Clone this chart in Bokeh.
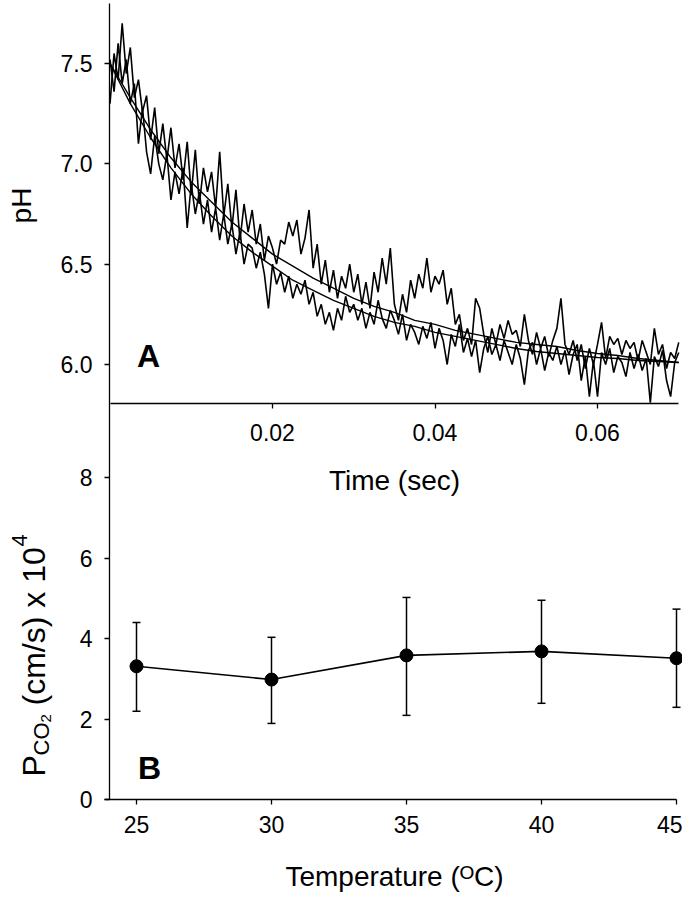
import math
from bokeh.plotting import figure
from bokeh.models import (Range1d, LinearAxis, FixedTicker, Label, Whisker, TeeHead,
                          ColumnDataSource, NumeralTickFormatter)
from bokeh.embed import file_html
from bokeh.resources import INLINE

# ---------------- Panel A data (pH vs time) ----------------
time_s = [round(i * 0.0005, 4) for i in range(141)]

trace_1 = [
    7.30, 7.55, 7.42, 7.70, 7.45, 7.58, 7.33, 7.42, 7.26, 7.34,
    7.12, 7.28, 7.05, 7.20, 7.02, 7.18, 6.98, 7.10, 6.92, 7.11,
    6.85, 7.07, 6.80, 6.98, 6.86, 6.96, 6.78, 7.06, 6.74, 6.90,
    6.68, 6.87, 6.62, 6.80, 6.66, 6.77, 6.60, 6.70, 6.52, 6.64,
    6.58, 6.50, 6.62, 6.60, 6.71, 6.64, 6.72, 6.55, 6.63, 6.77,
    6.48, 6.60, 6.40, 6.52, 6.36, 6.47, 6.33, 6.44, 6.38, 6.50,
    6.36, 6.45, 6.30, 6.41, 6.28, 6.46, 6.36, 6.53, 6.40, 6.58,
    6.30, 6.22, 6.35, 6.26, 6.42, 6.33, 6.45, 6.38, 6.53, 6.36,
    6.44, 6.40, 6.47, 6.30, 6.38, 6.20, 6.25, 6.12, 6.18, 6.10,
    6.33, 6.28, 6.15, 6.06, 6.18, 6.10, 6.20, 6.13, 6.22, 6.15,
    6.17, 6.09, 6.25, 6.12, 6.05, 6.16, 6.08, 6.14, 6.04, 6.12,
    6.18, 6.33, 6.10, 6.05, 6.12, 6.02, 6.10, 5.98, 6.08, 6.00,
    6.10, 6.21, 6.03, 6.14, 6.10, 6.13, 6.05, 6.12, 6.08, 6.11,
    6.02, 6.12, 6.06, 6.00, 6.18, 6.05, 6.10, 5.98, 6.06, 6.03, 6.11,
]

trace_2 = [
    7.52, 7.36, 7.60, 7.40, 7.52, 7.30, 7.40, 7.10, 7.28, 7.06,
    6.95, 7.14, 7.00, 6.92, 7.05, 6.82, 6.96, 6.85, 6.98, 6.68,
    6.90, 6.75, 6.86, 6.70, 6.82, 6.66, 6.78, 6.62, 6.75, 6.60,
    6.70, 6.55, 6.66, 6.50, 6.60, 6.58, 6.48, 6.56, 6.45, 6.28,
    6.50, 6.40, 6.46, 6.36, 6.44, 6.33, 6.40, 6.35, 6.42, 6.30,
    6.36, 6.24, 6.30, 6.20, 6.26, 6.17, 6.28, 6.22, 6.34, 6.26,
    6.30, 6.22, 6.28, 6.18, 6.26, 6.20, 6.32, 6.23, 6.18, 6.27,
    6.22, 6.15, 6.25, 6.12, 6.20, 6.16, 6.10, 6.19, 6.13, 6.21,
    6.08, 6.18, 6.12, 6.00, 6.15, 6.09, 6.20, 6.06, 6.13, 6.04,
    6.12, 5.96, 6.08, 6.14, 6.05, 6.10, 6.02, 6.12, 6.06, 6.00,
    6.10, 6.03, 5.90, 6.07, 6.11, 6.00, 6.08, 5.97, 6.06, 6.02,
    6.09, 6.00, 6.07, 5.95, 6.05, 6.10, 5.92, 6.04, 5.84, 6.02,
    5.84, 6.06, 6.00, 6.08, 5.96, 6.04, 6.01, 5.94, 6.06, 5.98,
    6.05, 5.97, 6.03, 5.81, 6.04, 5.99, 6.07, 5.92, 5.84, 6.01, 6.06,
]

fit_time = [0.0, 0.0025, 0.005, 0.0075, 0.01, 0.0125, 0.015, 0.0175, 0.02, 0.0225,
            0.025, 0.0275, 0.03, 0.0325, 0.035, 0.0375, 0.04, 0.0425, 0.045, 0.0475,
            0.05, 0.0525, 0.055, 0.0575, 0.06, 0.0625, 0.065, 0.0675, 0.07]
fit_upper = [7.50, 7.33, 7.17, 7.03, 6.91, 6.81, 6.71, 6.63, 6.55, 6.49,
             6.43, 6.38, 6.33, 6.29, 6.26, 6.22, 6.20, 6.17, 6.15, 6.13,
             6.11, 6.10, 6.09, 6.07, 6.055, 6.045, 6.03, 6.02, 6.01]
fit_lower = [7.50, 7.30, 7.13, 6.98, 6.85, 6.74, 6.64, 6.56, 6.49, 6.42,
             6.37, 6.32, 6.28, 6.24, 6.21, 6.19, 6.16, 6.14, 6.12, 6.10,
             6.08, 6.065, 6.055, 6.045, 6.035, 6.03, 6.02, 6.015, 6.01]

time_ticks = [0.02, 0.04, 0.06]
ph_ticks = [6.0, 6.5, 7.0, 7.5]
TIME_END = 0.07
PH_BOTTOM = 5.806   # pH at which panel A's time axis sits

# ---------------- Panel B data (P_CO2 vs temperature) ----------------
temperature = [25, 30, 35, 40, 45]
pco2_mean = [3.31, 2.98, 3.58, 3.68, 3.51]
pco2_upper = [4.40, 4.03, 5.02, 4.95, 4.73]
pco2_lower = [2.19, 1.89, 2.09, 2.39, 2.29]
temp_ticks = [25, 30, 35, 40, 45]
pco2_ticks = [0, 2, 4, 6, 8]

# ---------------- geometry (pixel anchors) ----------------
FONT = "Liberation Sans"
FIG_W, FIG_H = 682, 892


def lin(p0, v0, p1, v1):
    return lambda px: v0 + (px - p0) * (v1 - v0) / (p1 - p0)


x_T = lin(136, 25.0, 676, 45.0)      # temperature  (main x)
y_P = lin(799, 0.0, 477, 8.0)        # P_CO2        (main y)
x_t = lin(109.5, 0.0, 597, 0.06)     # time         (panel A x)
y_ph = lin(63, 7.5, 364, 6.0)        # pH           (panel A y)

p = figure(width=FIG_W, height=FIG_H, output_backend="svg", toolbar_location=None,
           x_range=Range1d(x_T(0), x_T(FIG_W)), y_range=Range1d(y_P(FIG_H), y_P(0)),
           x_axis_location=None, y_axis_location=None,
           min_border_left=0, min_border_right=0, min_border_top=0, min_border_bottom=0)
p.extra_x_ranges = {"t": Range1d(x_t(0), x_t(FIG_W))}
p.extra_y_ranges = {"ph": Range1d(y_ph(FIG_H), y_ph(0))}
p.outline_line_color = None
p.grid.visible = False
p.background_fill_color = "white"
p.border_fill_color = "white"

AXIS_X = x_T(109)        # temperature value where the left axis sits
TOP = y_P(3)             # top of the left axis line


def style_axis(ax, standoff):
    ax.axis_line_color = "black"
    ax.axis_line_width = 1.3
    ax.major_tick_line_color = "black"
    ax.major_tick_line_width = 1.3
    ax.major_tick_out = 5
    ax.major_tick_in = 0
    ax.minor_tick_line_color = None
    ax.major_label_text_font = FONT
    ax.major_label_text_font_size = "23px"
    ax.major_label_text_color = "black"
    ax.major_label_standoff = standoff


# panel B x axis
ax_temp = LinearAxis(fixed_location=0, bounds=(x_T(104), 45),
                     ticker=FixedTicker(ticks=temp_ticks))
style_axis(ax_temp, 11)
p.add_layout(ax_temp, "below")

# left axis for P_CO2 (its line runs the full height, as in the reference)
ax_p = LinearAxis(fixed_location=AXIS_X, bounds=(0, TOP), ticker=FixedTicker(ticks=pco2_ticks))
style_axis(ax_p, 12)
p.add_layout(ax_p, "left")

# panel A time axis
ax_time = LinearAxis(x_range_name="t", y_range_name="ph", fixed_location=PH_BOTTOM,
                     bounds=(0, TIME_END), ticker=FixedTicker(ticks=time_ticks),
                     formatter=NumeralTickFormatter(format="0.00"))
style_axis(ax_time, 16)
p.add_layout(ax_time, "below")

# panel A pH axis
ax_ph = LinearAxis(y_range_name="ph", fixed_location=AXIS_X, bounds=(PH_BOTTOM, y_ph(3)),
                   ticker=FixedTicker(ticks=ph_ticks),
                   formatter=NumeralTickFormatter(format="0.0"))
style_axis(ax_ph, 12)
ax_ph.axis_line_color = None
p.add_layout(ax_ph, "left")

# panel A glyphs
for series in (trace_1, trace_2):
    p.line(time_s, series, x_range_name="t", y_range_name="ph", line_color="black", line_width=1.6)
for series in (fit_upper, fit_lower):
    p.line(fit_time, series, x_range_name="t", y_range_name="ph", line_color="black", line_width=1.4)

# panel B glyphs
src = ColumnDataSource(dict(t=temperature, m=pco2_mean, hi=pco2_upper, lo=pco2_lower))
p.add_layout(Whisker(source=src, base="t", upper="hi", lower="lo", line_color="black", line_width=1.5,
                     upper_head=TeeHead(size=8, line_color="black", line_width=1.5),
                     lower_head=TeeHead(size=8, line_color="black", line_width=1.5)))
p.line("t", "m", source=src, line_color="black", line_width=1.6)
p.scatter("t", "m", source=src, size=13, fill_color="black", line_color="black")


def text(px, py, s, size="28px", angle=0.0, align="center", baseline="middle", style="normal"):
    p.add_layout(Label(x=x_T(px), y=y_P(py), text=s, angle=angle, text_font=FONT,
                       text_font_size=size, text_font_style=style, text_color="black",
                       text_align=align, text_baseline=baseline))


# panel letters
text(148, 355, "A", size="32px", style="bold")
text(149, 767, "B", size="32px", style="bold")

# axis titles
text(394, 480, "Time (sec)")
text(394, 876, "Temperature (ᴼC)")
text(21, 205, "pH", angle=math.pi / 2)

BASE_X = 33  # baseline of the rotated P_CO2 title
pieces = [
    ("P", 776, 0, "32px"),
    ("CO", 755, 8, "22px"),
    ("2", 722, 12, "15px"),
    ("(cm/s) x 10", 705, 0, "32px"),
    ("4", 546, -14, "22px"),
]
for s, start_y, shift, size in pieces:
    text(BASE_X + shift, start_y, s, size=size, angle=math.pi / 2, align="left", baseline="alphabetic")

open("out.html", "w").write(file_html(p, INLINE))
